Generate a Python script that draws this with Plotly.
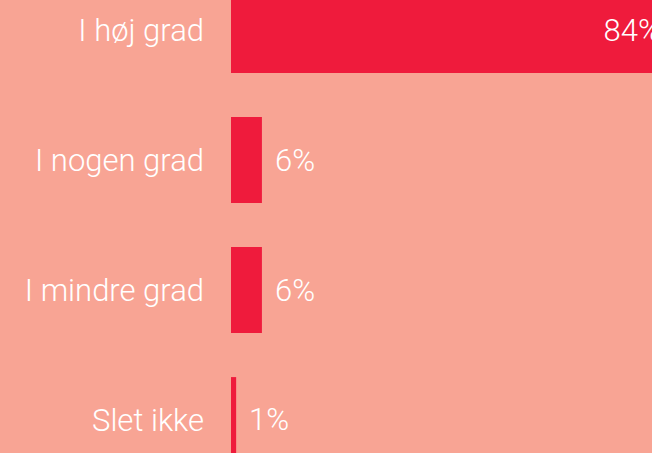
import plotly.graph_objects as go

categories = ["I høj grad", "I nogen grad", "I mindre grad", "Slet ikke"]
values = [84, 6, 6, 1]
labels = ["84%", "6%", "6%", "1%"]

BG = "#F8A494"
BAR = "#EF1B3C"
FONT = "Roboto"
W = 300
SIZE = 31

pos = list(range(len(categories)))

fig = go.Figure()
fig.add_trace(go.Bar(
    y=pos, x=values, orientation="h",
    marker=dict(color=BAR, line=dict(width=0)),
    width=0.66,
    text=[labels[0], "", "", ""],
    textposition="inside", insidetextanchor="end",
    textfont=dict(family=FONT, size=SIZE, color="white", weight=W),
    cliponaxis=True,
    hoverinfo="skip",
))

for i in range(1, len(values)):
    fig.add_annotation(
        x=values[i], y=pos[i], xref="x", yref="y",
        text=labels[i], showarrow=False, xanchor="left", yanchor="middle",
        xshift=11, font=dict(family=FONT, size=SIZE, color="white", weight=W),
    )

fig.update_layout(
    width=652, height=453,
    margin=dict(l=231, r=0, t=0, b=0),
    paper_bgcolor=BG, plot_bgcolor=BG,
    showlegend=False,
    bargap=0.34,
)
fig.update_xaxes(range=[0, 81.7], visible=False, fixedrange=True)
fig.update_yaxes(
    range=[3.254, -0.231],
    tickmode="array", tickvals=pos, ticktext=categories,
    showgrid=False, zeroline=False, showline=False, ticks="",
    ticklabelstandoff=26,
    tickfont=dict(family=FONT, size=SIZE, color="white", weight=W),
)

fig.write_html(
    "out.html",
    config={"displayModeBar": False},
    post_script="document.body.style.margin='0';document.body.style.background='" + BG + "';",
)
